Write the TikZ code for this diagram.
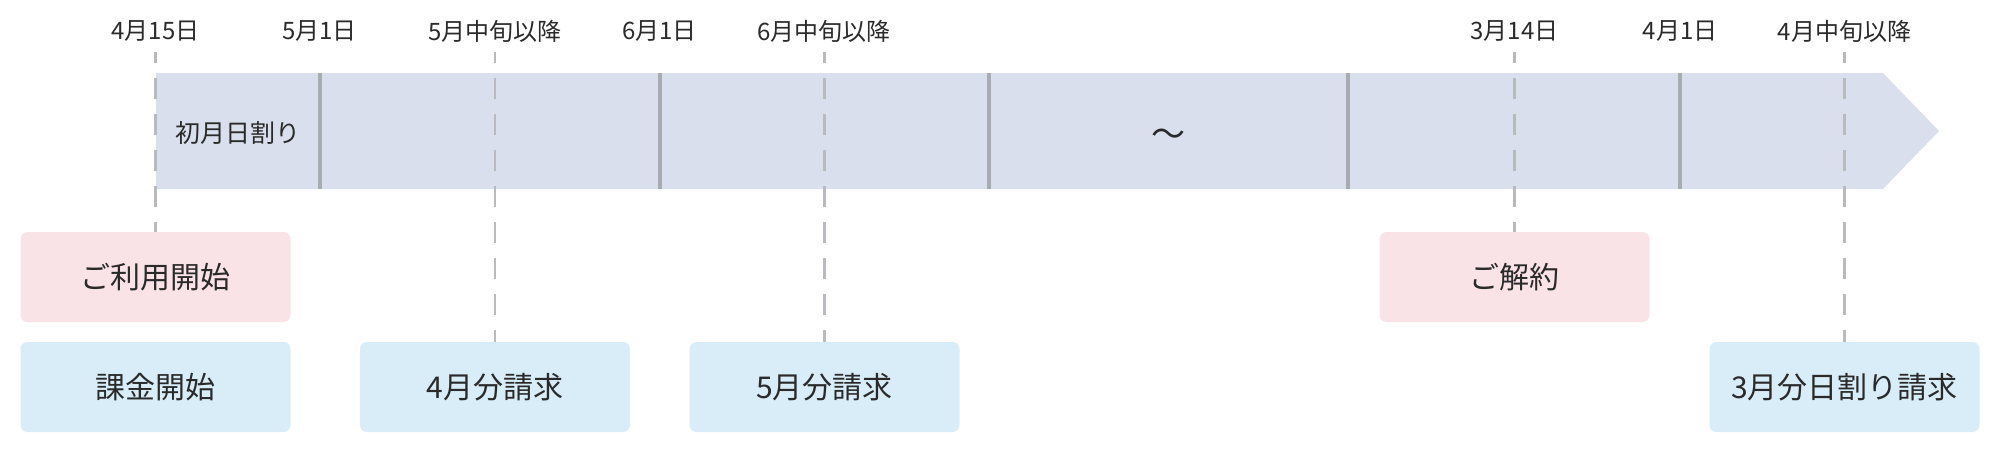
\documentclass[tikz,border=0pt]{standalone}
\usepackage{fontspec}
\setmainfont{Noto Sans CJK JP}
\definecolor{bandc}{HTML}{D9DFEC}
\definecolor{sepc}{HTML}{A8ABB0}
\definecolor{pinkc}{HTML}{FAE3E7}
\definecolor{bluec}{HTML}{D8EDF8}
\definecolor{dashc}{HTML}{B8BABD}
\definecolor{txtc}{HTML}{2A2A2A}
\tikzset{
  datelabel/.style={text=txtc,font=\fontsize{24}{28}\selectfont,inner sep=0pt},
  evbox/.style={rounded corners=7pt,minimum width=270pt,minimum height=90pt,inner sep=0pt,text=txtc,font=\fontsize{30}{36}\selectfont},
  pinkbox/.style={evbox,fill=pinkc},
  bluebox/.style={evbox,fill=bluec},
  sepline/.style={draw=sepc,line width=4pt},
  dashline/.style={draw=dashc,line width=2.5pt,dash pattern=on 21pt off 15pt,dash phase=10pt},
}
\begin{document}
\begin{tikzpicture}[x=1pt,y=-1pt]
\useasboundingbox (0,0) rectangle (2000,453);
% band
\fill[bandc] (156,73) -- (1883,73) -- (1939,131) -- (1883,189) -- (156,189) -- cycle;
\node[text=txtc,font=\fontsize{25}{30}\selectfont,inner sep=0pt] (bandtxt) at (237.5,133) {初月日割り};
\node[text=txtc,font=\fontsize{34}{40}\selectfont,inner sep=0pt] (tilde) at (1168,138) {〜};
% separators
\foreach \x/\n in {319.5/s1,659.5/s2,989/s3,1348/s4,1680/s5}{
  \coordinate (\n t) at (\x,73);
  \coordinate (\n b) at (\x,189);
  \draw[sepline] (\n t) -- (\n b);
}
% top labels
\node[datelabel] (d1) at (155.5,31) {4月15日};
\node[datelabel] (d2) at (319.5,31) {5月1日};
\node[datelabel] (d3) at (495,31) {5月中旬以降};
\node[datelabel] (d4) at (659.5,31) {6月1日};
\node[datelabel] (d5) at (824,31) {6月中旬以降};
\node[datelabel] (d6) at (1514.5,31) {3月14日};
\node[datelabel] (d7) at (1680,31) {4月1日};
\node[datelabel] (d8) at (1844.5,31) {4月中旬以降};
% boxes
\node[pinkbox] (start) at (155.5,277) {ご利用開始};
\node[pinkbox] (cancel) at (1514.5,277) {ご解約};
\node[bluebox] (charge) at (155.5,387) {課金開始};
\node[bluebox] (apr) at (495,387) {4月分請求};
\node[bluebox] (may) at (824.5,387) {5月分請求};
\node[bluebox] (mar) at (1844.5,387) {3月分日割り請求};
% dashed connectors
\coordinate (t1) at (155.5,52);
\coordinate (t3) at (495,52);
\coordinate (t5) at (824.5,52);
\coordinate (t6) at (1514.5,52);
\coordinate (t8) at (1844.5,52);
\draw[dashline] (t1) -- (start.north);
\draw[dashline] (t3) -- (apr.north);
\draw[dashline] (t5) -- (may.north);
\draw[dashline] (t6) -- (cancel.north);
\draw[dashline] (t8) -- (mar.north);
\end{tikzpicture}
\end{document}
